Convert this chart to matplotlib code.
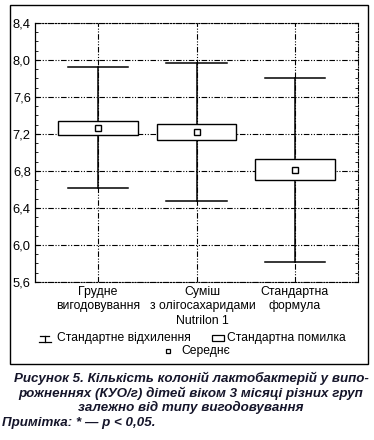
import numpy as np
import matplotlib
matplotlib.use('Agg')
import matplotlib.pyplot as plt
import matplotlib.transforms as mtransforms
from matplotlib.ticker import MultipleLocator, FuncFormatter
from matplotlib.patches import Rectangle

# Дані (КУО/г, log)
groups = ['Грудне\nвигодовування', 'Суміш\nз олігосахаридами\nNutrilon 1', 'Стандартна\nформула']
means = [7.27, 7.22, 6.81]
se_lo = [7.19, 7.14, 6.70]
se_hi = [7.34, 7.31, 6.93]
sd_lo = [6.62, 6.48, 5.82]
sd_hi = [7.92, 7.97, 7.81]
label_dx = [0, 6, 0]   # зсув підписів, px

plt.rcParams['font.family'] = ['Liberation Sans', 'DejaVu Sans']

W, H = 374, 440
fig = plt.figure(figsize=(W / 100, H / 100), dpi=100)

# допоміжна вісь у пікселях
lay = fig.add_axes([0, 0, 1, 1])
lay.set_xlim(0, W)
lay.set_ylim(H, 0)
lay.axis('off')

ax = fig.add_axes([35 / W, 1 - 282 / H, 323 / W, 259 / H])
ax.set_zorder(2)

dash = (0, (5, 1.5, 1, 1.5, 1, 1.5))
x = np.arange(1, len(groups) + 1)

for i in range(len(groups)):
    ax.plot([x[i], x[i]], [sd_lo[i], sd_hi[i]], color='black', lw=1.1, zorder=3)
    ax.plot([x[i] - 0.305, x[i] + 0.305], [sd_lo[i]] * 2, color='black', lw=1.1, zorder=3)
    ax.plot([x[i] - 0.305, x[i] + 0.305], [sd_hi[i]] * 2, color='black', lw=1.1, zorder=3)
    ax.add_patch(Rectangle((x[i] - 0.405, se_lo[i]), 0.81, se_hi[i] - se_lo[i],
                           facecolor='white', edgecolor='black', lw=1.0, zorder=4))
ax.plot(x, means, ls='none', marker='s', ms=4, mfc='white', mec='black', mew=1.0, zorder=5)

ax.set_xlim(0.36, 3.64)
ax.set_ylim(5.6, 8.4)
ax.set_xticks(x)
ax.set_xticklabels([])
for i in range(len(groups)):
    off = mtransforms.ScaledTranslation(label_dx[i] / 100, -4.2 / 100, fig.dpi_scale_trans)
    ax.text(x[i], 0, groups[i], transform=ax.get_xaxis_transform() + off,
            ha='center', va='top', fontsize=8.8, linespacing=1.25, multialignment='center')
ax.yaxis.set_major_locator(MultipleLocator(0.4))
ax.yaxis.set_minor_locator(MultipleLocator(0.1))
ax.yaxis.set_major_formatter(FuncFormatter(lambda v, p: f'{v:.1f}'.replace('.', ',')))
ax.tick_params(axis='y', which='both', direction='in', left=True, right=True, labelsize=9.3, pad=3)
ax.tick_params(axis='y', which='major', length=3)
ax.tick_params(axis='y', which='minor', length=2)
ax.tick_params(axis='x', length=0, pad=3)
ax.grid(True, which='major', color='black', lw=0.8, linestyle=dash)
for s in ['top', 'right', 'bottom']:
    ax.spines[s].set_linestyle(dash)
    ax.spines[s].set_linewidth(0.8)
ax.spines['left'].set_linewidth(0.9)

# рамка
lay.add_patch(Rectangle((10, 5), 358, 359, fill=False, edgecolor='black', lw=1.0))

# легенда
fs = 8.7
lay.plot([45, 45], [336, 342], color='black', lw=0.9)
lay.plot([40.5, 49.5], [336, 336], color='black', lw=0.9)
lay.plot([39, 51], [342, 342], color='black', lw=0.9)
lay.text(57, 338, 'Стандартне відхилення', fontsize=fs, va='center', ha='left')
lay.add_patch(Rectangle((212, 335), 12, 6, fill=False, edgecolor='black', lw=0.9))
lay.text(227, 338, 'Стандартна помилка', fontsize=fs, va='center', ha='left')
lay.plot([168], [351.5], marker='s', ms=3, mfc='white', mec='black', mew=0.9)
lay.text(181, 351, 'Середнє', fontsize=fs, va='center', ha='left')

# підпис
cap = dict(fontsize=9.6, fontweight='bold', fontstyle='italic', color='#15152a')
lay.text(191, 378, 'Рисунок 5. Кількість колоній лактобактерій у випо-', ha='center', va='center', **cap)
lay.text(191, 393, 'рожненнях (КУО/г) дітей віком 3 місяці різних груп', ha='center', va='center', **cap)
lay.text(191, 407, 'залежно від типу вигодовування', ha='center', va='center', **cap)
lay.text(2, 423, 'Примітка: * — р < 0,05.', ha='left', va='center', **cap)

fig.savefig('out.png', dpi=100)
